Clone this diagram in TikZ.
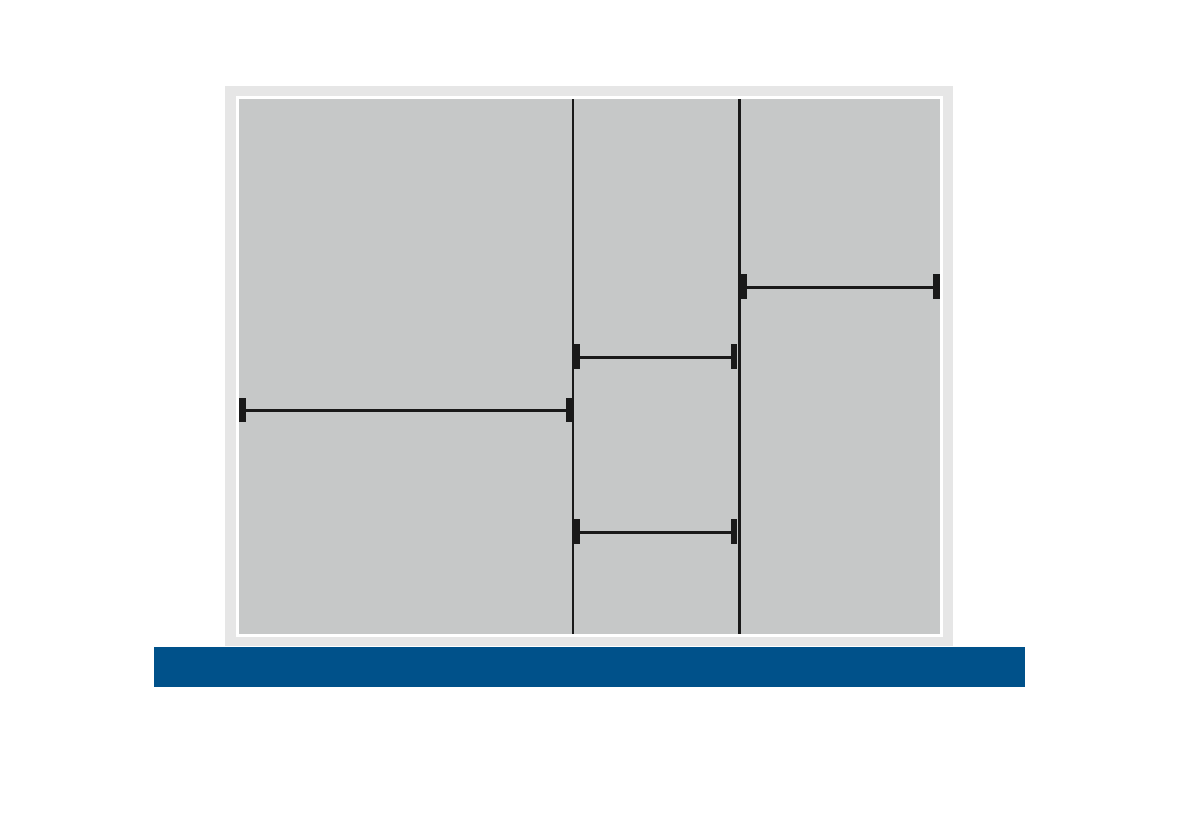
\documentclass[tikz,border=0pt]{standalone}
\usetikzlibrary{arrows}
\definecolor{frmgray}{rgb}{0.902,0.902,0.902}
\definecolor{fillgray}{rgb}{0.776,0.784,0.784}
\definecolor{barblue}{rgb}{0.,0.318,0.541}
\definecolor{divblack}{rgb}{0.1,0.1,0.1}
\begin{document}
\begin{tikzpicture}[line cap=butt,line join=miter,x=0.01cm,y=-0.01cm]
\useasboundingbox (0,0) rectangle (1200,826);
\fill [frmgray] (225,86) rectangle (953,646);
\fill [white] (236,96) rectangle (943,637);
\fill [fillgray] (239,99) rectangle (940,634);
\fill [barblue] (154,647) rectangle (1025,687);
\draw [divblack,line width=0.8pt] (573,99) -- (573,634);
\draw [divblack,line width=0.85pt] (739,99) -- (739,634);
\draw [divblack,line width=0.85pt] (246,410) -- (566,410);
\draw [divblack,line width=0.85pt] (580,357) -- (731,357);
\draw [divblack,line width=0.85pt] (580,532) -- (731,532);
\draw [divblack,line width=0.85pt] (747,287) -- (933,287);
\fill [divblack] (239,398) rectangle (246,422);
\fill [divblack] (566,398) rectangle (572,422);
\fill [divblack] (573,344) rectangle (580,369);
\fill [divblack] (731,344) rectangle (737,369);
\fill [divblack] (573,519) rectangle (580,544);
\fill [divblack] (731,519) rectangle (737,544);
\fill [divblack] (740,274) rectangle (747,299);
\fill [divblack] (933,274) rectangle (940,299);
\end{tikzpicture}
\end{document}
